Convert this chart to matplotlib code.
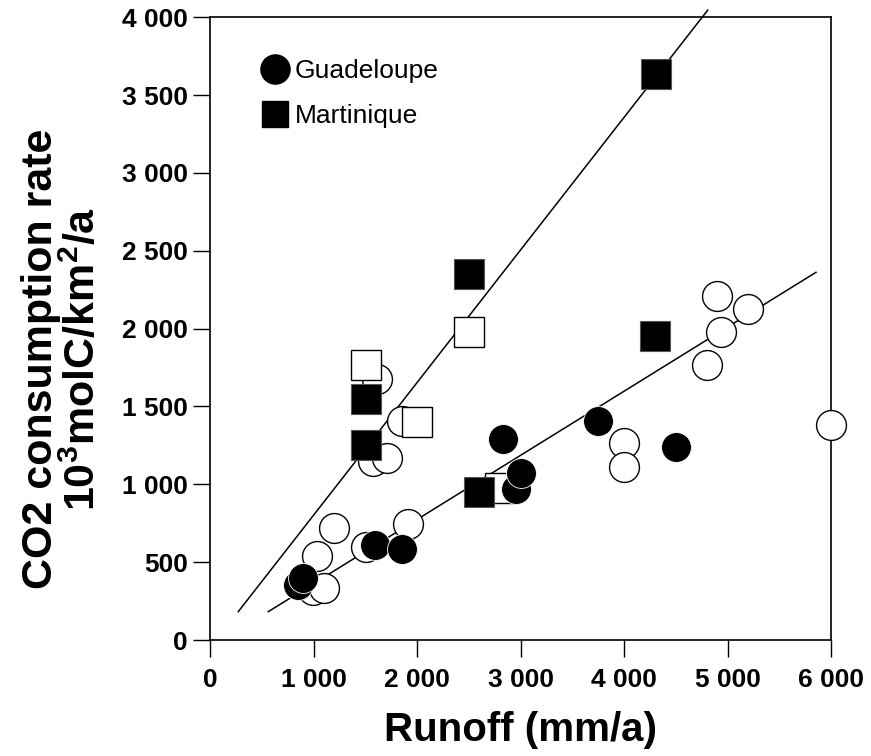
import matplotlib
matplotlib.use("Agg")
import matplotlib.pyplot as plt
from matplotlib.lines import Line2D

plt.rcParams['font.family'] = ['Liberation Sans', 'DejaVu Sans']
plt.rcParams['mathtext.fontset'] = 'custom'
plt.rcParams['mathtext.rm'] = 'Liberation Sans:bold'
plt.rcParams['mathtext.bf'] = 'Liberation Sans:bold'
plt.rcParams['mathtext.default'] = 'bf'

# Guadeloupe basins (filled = legend series, open = other basins)
guad_filled_x = [853, 901, 1594, 1852, 2834, 2957, 3002, 3752, 4498]
guad_filled_y = [353, 396, 610, 584, 1289, 972, 1071, 1408, 1241]
guad_open_x = [1611, 1858, 1578, 1707, 1198, 1037, 998, 1104, 1504, 1910,
               4003, 4003, 4901, 5195, 4934, 4805, 6000]
guad_open_y = [1674, 1407, 1150, 1167, 717, 540, 321, 332, 599, 743,
               1267, 1109, 2211, 2128, 1976, 1764, 1383]

# Martinique basins
mart_filled_x = [1504, 1504, 2505, 2602, 4300, 4307]
mart_filled_y = [1548, 1250, 2351, 951, 1954, 3637]
mart_open_x = [1504, 2000, 2502, 2802]
mart_open_y = [1766, 1400, 1976, 974]

# Regression lines (end points)
mart_fit_x = [273, 4809]
mart_fit_y = [182, 4046]
guad_fit_x = [563, 5855]
guad_fit_y = [182, 2362]

x_ticks = [0, 1000, 2000, 3000, 4000, 5000, 6000]
x_tick_labels = ["0", "1 000", "2 000", "3 000", "4 000", "5 000", "6 000"]
y_ticks = [0, 500, 1000, 1500, 2000, 2500, 3000, 3500, 4000]
y_tick_labels = ["0", "500", "1 000", "1 500", "2 000", "2 500", "3 000", "3 500", "4 000"]

W, H = 871, 756
fig = plt.figure(figsize=(W / 100, H / 100), dpi=100)
ax = fig.add_axes([210 / W, 1 - 640 / H, (831 - 210) / W, (640 - 17.3) / H])

ax.plot(mart_fit_x, mart_fit_y, color='black', lw=1.1, clip_on=False, zorder=1)
ax.plot(guad_fit_x, guad_fit_y, color='black', lw=1.1, clip_on=False, zorder=1)

ms = 21.5
ax.plot(guad_open_x, guad_open_y, 'o', ms=ms, mfc='white', mec='black', mew=1.0,
        clip_on=False, zorder=3)
ax.plot(mart_open_x, mart_open_y, 's', ms=ms, mfc='white', mec='black', mew=1.0,
        clip_on=False, zorder=4)
ax.plot(mart_filled_x, mart_filled_y, 's', ms=ms, mfc='black', mec='#555555', mew=0.8,
        clip_on=False, zorder=5)
ax.plot(guad_filled_x, guad_filled_y, 'o', ms=ms, mfc='black', mec='white', mew=0.6,
        clip_on=False, zorder=6)

ax.set_xlim(0, 6000)
ax.set_ylim(0, 4000)
ax.set_xticks(x_ticks)
ax.set_xticklabels(x_tick_labels)
ax.set_yticks(y_ticks)
ax.set_yticklabels(y_tick_labels)
ax.tick_params(axis='both', direction='out', length=12, width=1.0,
               labelsize=19, colors='black')
ax.tick_params(axis='x', pad=8)
ax.tick_params(axis='y', pad=4)
for lbl in ax.get_xticklabels() + ax.get_yticklabels():
    lbl.set_fontweight('bold')
for sp in ax.spines.values():
    sp.set_linewidth(1.2)

ax.set_xlabel("Runoff (mm/a)", fontsize=29, fontweight='bold')
ax.xaxis.set_label_coords(0.5, -0.114)
ax.set_ylabel("CO2 consumption rate\n10$^3$molC/km$^2$/a", fontsize=31,
              fontweight='bold', linespacing=1.05)
ax.yaxis.set_label_coords(-0.17, 0.452)

handles = [Line2D([], [], marker='o', ls='none', ms=21, mfc='black', mec='black'),
           Line2D([], [], marker='s', ls='none', ms=19, mfc='black', mec='black')]
ax.legend(handles, ["Guadeloupe", "Martinique"], loc='upper left',
          bbox_to_anchor=(0.062, 0.9496), frameon=False, fontsize=19,
          handlelength=1.2, handletextpad=0.15, labelspacing=0.78,
          borderaxespad=0)

fig.savefig("out.png", dpi=100)
